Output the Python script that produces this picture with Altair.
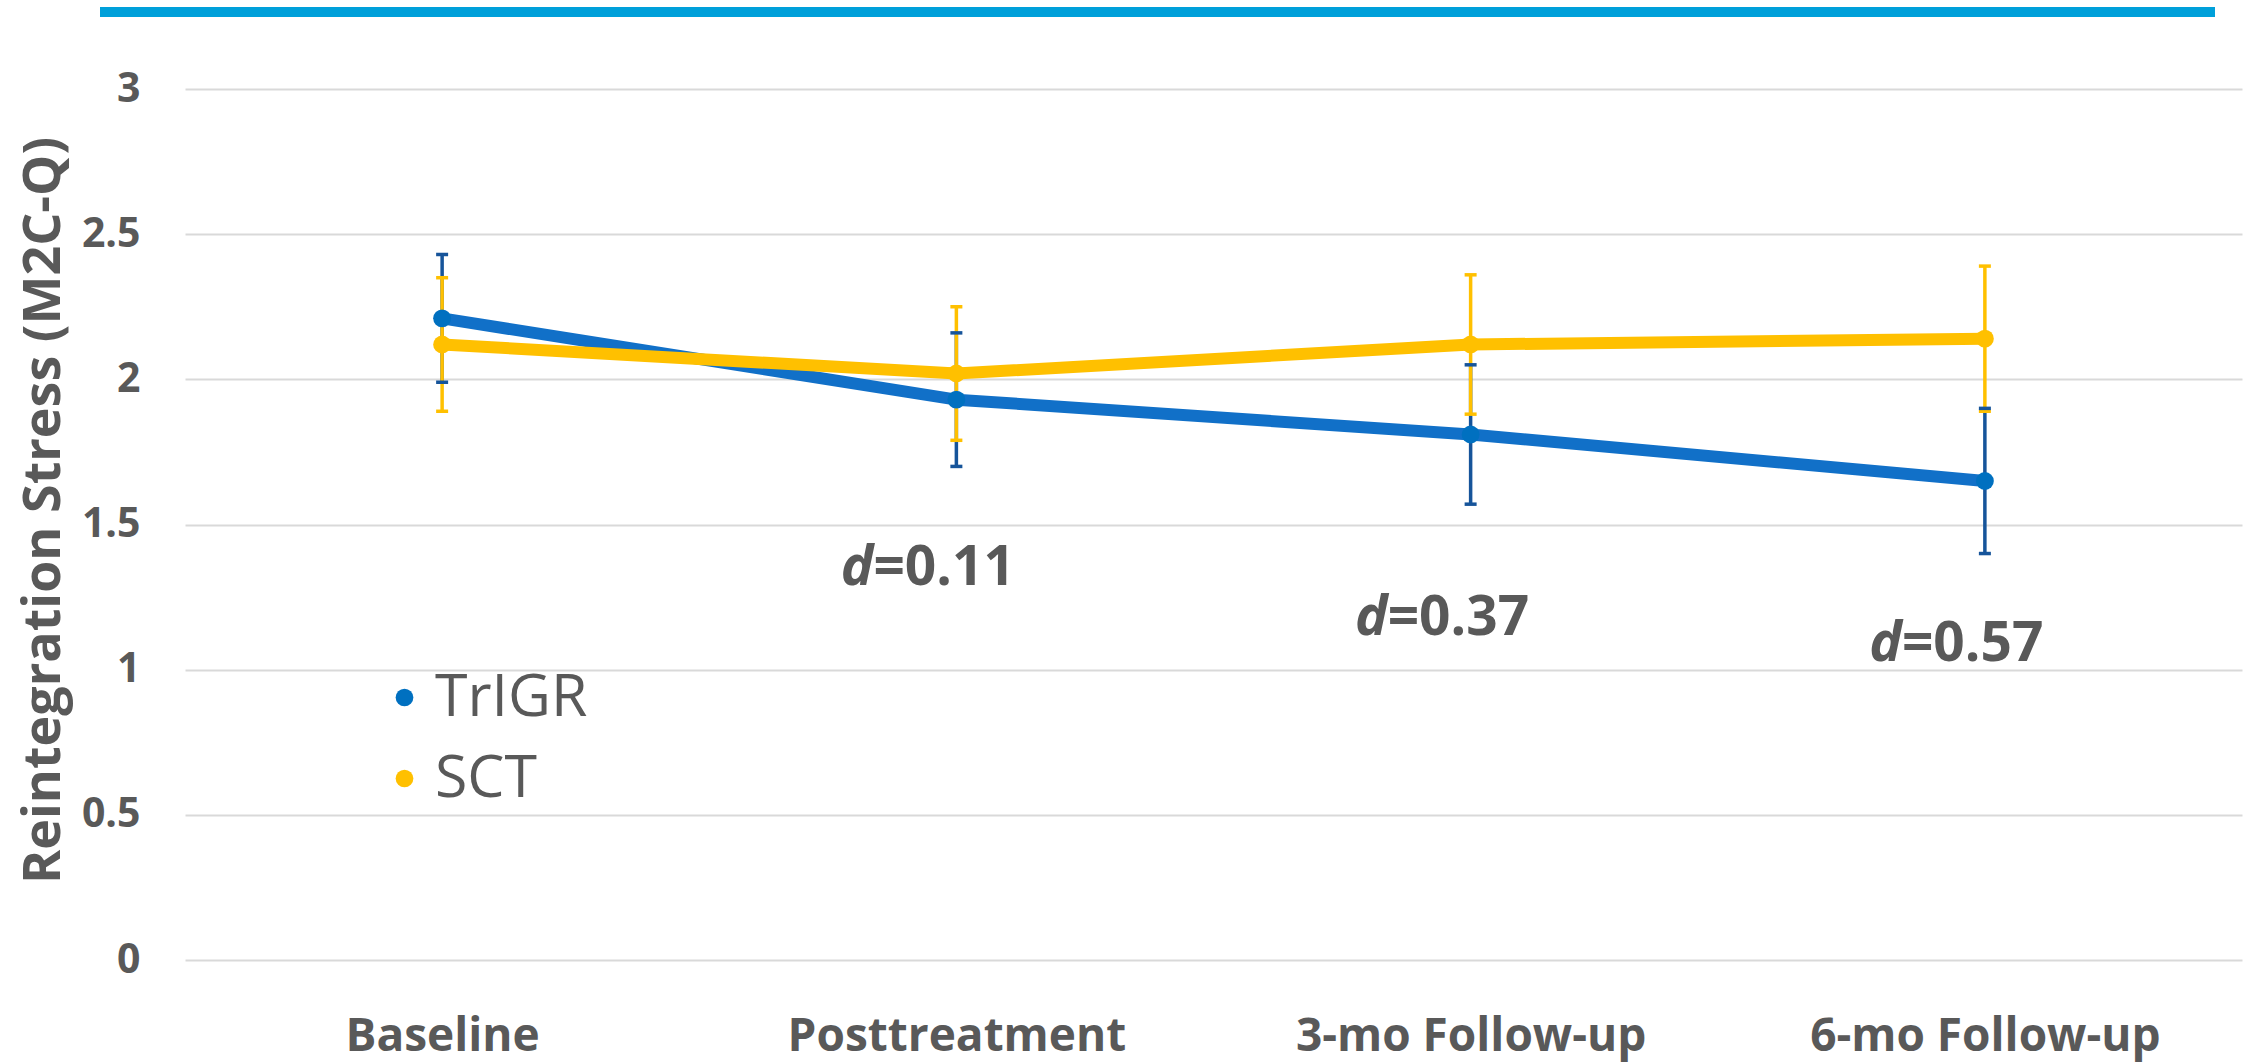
import altair as alt
import pandas as pd

# ---- data ----
categories = ["Baseline", "Posttreatment", "3-mo Follow-up", "6-mo Follow-up"]
series_names = ["TrIGR", "SCT"]
trigr_mean = [2.21, 1.93, 1.81, 1.65]
trigr_err = [0.22, 0.23, 0.24, 0.25]
sct_mean = [2.12, 2.02, 2.12, 2.14]
sct_err = [0.23, 0.23, 0.24, 0.25]
effect_cats = ["Posttreatment", "3-mo Follow-up", "6-mo Follow-up"]
effect_vals = ["0.11", "0.37", "0.57"]
effect_y = [1.293, 1.121, 1.031]
y_ticks = [0, 0.5, 1, 1.5, 2, 2.5, 3]
y_title = "Reintegration Stress (M2C-Q)"

rows = []
for name, means, errs in [("TrIGR", trigr_mean, trigr_err), ("SCT", sct_mean, sct_err)]:
    for c, m, e in zip(categories, means, errs):
        rows.append({"time": c, "series": name, "mean": m, "lo": m - e, "hi": m + e})
df = pd.DataFrame(rows)

ann = pd.DataFrame({"time": effect_cats, "y": effect_y,
                    "dtxt": ["d"] * len(effect_vals),
                    "rest": ["=" + v for v in effect_vals]})

GREY = "#595959"
FONT = "Open Sans"
line_colors = ["#1170C8", "#FFC000"]
marker_colors = ["#0070C0", "#FFC000"]
err_colors = ["#16549A", "#FFC000"]

xscale = alt.Scale(type="point", padding=0.5)
xenc = alt.X("time:N", sort=categories, scale=xscale,
             axis=alt.Axis(title=None, labelAngle=0, labelFont=FONT, labelFontWeight="bold",
                           labelFontSize=46, labelColor=GREY, ticks=False, tickSize=0,
                           domain=False, grid=False, labelPadding=54, labelBaseline="top",
                           labelLimit=1000))
yscale = alt.Scale(domain=[0, 3], nice=False, zero=True)
yaxis = alt.Axis(title=y_title, values=y_ticks, format="~g", labelFont=FONT,
                 labelFontWeight="bold", labelFontSize=41, labelColor=GREY,
                 ticks=False, tickSize=0, domain=False, grid=True, gridColor="#D9D9D9",
                 gridWidth=2, labelPadding=45, labelAlign="right", labelBaseline="middle",
                 titleFont=FONT, titleFontWeight="bold", titleFontSize=52, titleColor=GREY,
                 titleX=-142, titleY=421, titleAlign="center", titleBaseline="middle",
                 titleAngle=270)

base = alt.Chart(df)

err_color = alt.Color("series:N", scale=alt.Scale(domain=series_names, range=err_colors), legend=None)

err_rule = base.mark_rule(strokeWidth=3.5).encode(
    x=xenc,
    y=alt.Y("lo:Q", scale=yscale, axis=yaxis),
    y2="hi:Q",
    color=err_color,
)
cap_lo = base.mark_tick(size=12, thickness=3.5, opacity=1).encode(
    x=xenc, y=alt.Y("lo:Q", scale=yscale), color=err_color)
cap_hi = base.mark_tick(size=12, thickness=3.5, opacity=1).encode(
    x=xenc, y=alt.Y("hi:Q", scale=yscale), color=err_color)

lines = base.mark_line(strokeWidth=12, strokeJoin="round", strokeCap="round").encode(
    x=xenc, y=alt.Y("mean:Q", scale=yscale),
    stroke=alt.Stroke("series:N", scale=alt.Scale(domain=series_names, range=line_colors),
                      legend=alt.Legend(title=None, orient="bottom-left", offset=150,
                                        symbolType="stroke", symbolSize=3721,
                                        symbolStrokeWidth=10,
                                        labelFont="Open Sans", labelFontSize=59,
                                        labelColor=GREY, labelOffset=0, rowPadding=19,
                                        labelLimit=400)),
)

points = base.mark_circle(size=320, opacity=1).encode(
    x=xenc, y=alt.Y("mean:Q", scale=yscale),
    fill=alt.Fill("series:N", scale=alt.Scale(domain=series_names, range=marker_colors),
                  legend=alt.Legend(title=None, orient="none", legendX=190, legendY=579,
                                    symbolType="circle", symbolSize=314,
                                    symbolStrokeWidth=0, symbolOpacity=1,
                                    labelFont="Open Sans", labelFontSize=59,
                                    labelColor=GREY, labelOffset=1, rowPadding=21,
                                    labelLimit=400)),
)

ann_base = alt.Chart(ann)
d_txt = ann_base.mark_text(font=FONT, fontSize=55, fontWeight="bold", fontStyle="italic",
                           color=GREY, align="right", baseline="alphabetic", dx=-83).encode(
    x=alt.X("time:N", sort=categories, scale=xscale),
    y=alt.Y("y:Q", scale=yscale), text="dtxt:N")
rest_txt = ann_base.mark_text(font=FONT, fontSize=55, fontWeight="bold",
                              color=GREY, align="left", baseline="alphabetic", dx=-83).encode(
    x=alt.X("time:N", sort=categories, scale=xscale),
    y=alt.Y("y:Q", scale=yscale), text="rest:N")

top_bar = alt.Chart(alt.Data(values=[{"k": 1}])).mark_rule(color="#00A0DA", strokeWidth=10).encode(
    x=alt.value(-85), x2=alt.value(2030), y=alt.value(-77))

chart = alt.layer(err_rule, cap_lo, cap_hi, lines, points, d_txt, rest_txt, top_bar).properties(
    width=2057, height=871,
    autosize=alt.AutoSizeParams(type="none"),
    padding={"left": 185, "top": 89, "right": 8, "bottom": 103},
    background="white",
).configure_view(stroke=None)

chart.save("out.html", embed_options={"renderer": "svg", "actions": False})
